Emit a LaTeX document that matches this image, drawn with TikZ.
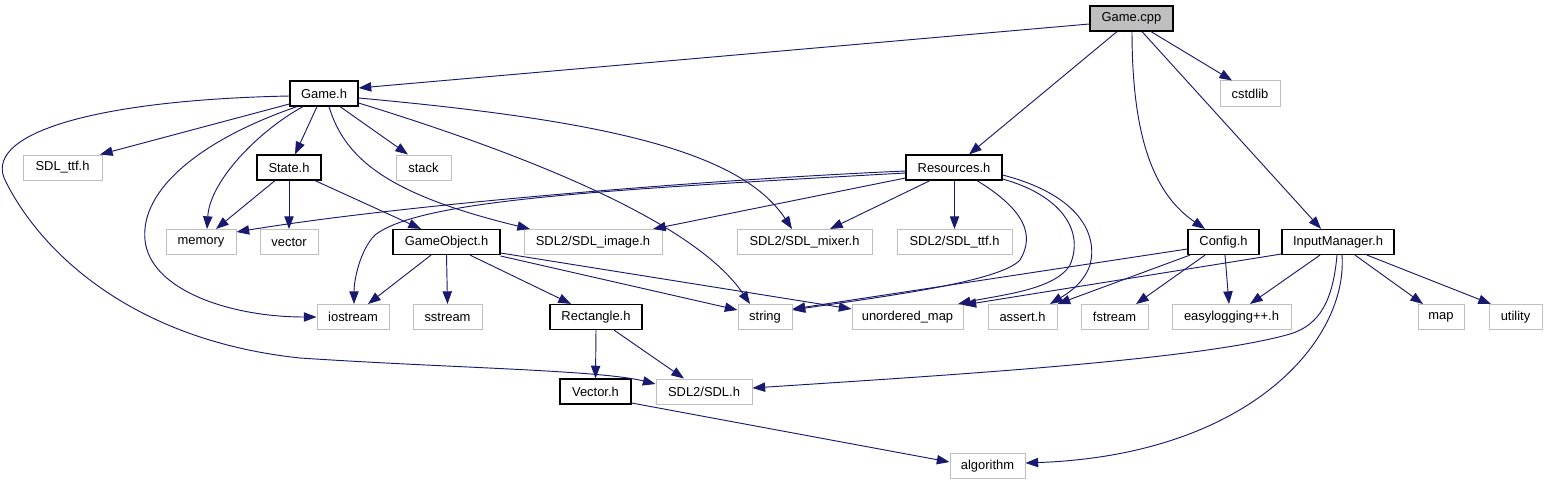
\documentclass[tikz,border=0pt]{standalone}
\usepackage{fontspec}
\setmainfont{Liberation Sans}
\usetikzlibrary{arrows.meta}
\definecolor{edgec}{HTML}{191970}
\definecolor{grayb}{HTML}{BFBFBF}
\definecolor{cppfill}{HTML}{BFBFBF}
\tikzset{
  base/.style={rectangle, inner sep=0pt, minimum height=18.75pt, font=\fontsize{9.7}{11}\selectfont, text=black},
  doc/.style={base, draw=black, line width=0.9pt, fill=white},
  ext/.style={base, draw=grayb, line width=0.75pt, fill=white},
  e/.style={draw=edgec, line width=0.7pt, -{Triangle[length=9.5pt,width=7pt]}},
}
\begin{document}
\begin{tikzpicture}[x=0.75pt,y=-0.75pt]
\useasboundingbox[fill=white] (0,0) rectangle (1548,485);
% nodes
\node[doc, fill=cppfill, minimum width=62.25pt] (gamecpp) at (1131.5,18.5) {Game.cpp};
\node[doc, minimum width=51pt] (gameh) at (324,93.5) {Game.h};
\node[ext, minimum width=45pt] (cstdlib) at (1250,93.5) {cstdlib};
\node[ext, minimum width=59.25pt] (sdlttf) at (62.5,167.5) {SDL\_ttf.h};
\node[doc, minimum width=48pt] (stateh) at (289,167.5) {State.h};
\node[ext, minimum width=41.25pt] (stack) at (423.5,167.5) {stack};
\node[doc, minimum width=72pt] (resources) at (954,167.5) {Resources.h};
\node[ext, minimum width=52.5pt] (memory) at (201,242) {memory};
\node[ext, minimum width=43.5pt] (vector) at (289,242) {vector};
\node[doc, minimum width=80.25pt] (gameobject) at (446.5,242) {GameObject.h};
\node[ext, minimum width=103.5pt] (sdlimage) at (593,242) {SDL2/SDL\_image.h};
\node[ext, minimum width=101.25pt] (sdlmixer) at (804.5,242) {SDL2/SDL\_mixer.h};
\node[ext, minimum width=86.25pt] (sdl2ttf) at (954.5,242) {SDL2/SDL\_ttf.h};
\node[doc, minimum width=53.25pt] (config) at (1223.5,242) {Config.h};
\node[doc, minimum width=84pt] (inputmgr) at (1338,242) {InputManager.h};
\node[ext, minimum width=54pt] (iostream) at (353,317) {iostream};
\node[ext, minimum width=51.75pt] (sstream) at (447.5,317) {sstream};
\node[doc, minimum width=69pt] (rectangle) at (596,317) {Rectangle.h};
\node[ext, minimum width=40.5pt] (string) at (765,317) {string};
\node[ext, minimum width=83.25pt] (umap) at (907.5,317) {unordered\_map};
\node[ext, minimum width=51.75pt] (assert) at (1022.5,317) {assert.h};
\node[ext, minimum width=50.25pt] (fstream) at (1114.5,317) {fstream};
\node[ext, minimum width=89.25pt] (easylog) at (1231.5,317) {easylogging++.h};
\node[ext, minimum width=34.5pt] (map) at (1441,317) {map};
\node[ext, minimum width=39.75pt] (utility) at (1515.5,317) {utility};
\node[doc, minimum width=53.25pt] (vectorh) at (595.5,391.5) {Vector.h};
\node[ext, minimum width=72pt] (sdlh) at (704,391.5) {SDL2/SDL.h};
\node[ext, minimum width=56.25pt] (algorithm) at (987.5,466) {algorithm};
% Game.cpp
\draw[e] (gamecpp.west |- 0,24) -- (gameh.east |- 0,88);
\draw[e] (gamecpp.south -| 1117,0) -- (resources.north -| 969,0);
\draw[e] (gamecpp.south -| 1132,0) .. controls (1132,140) and (1155,195) .. (config.north -| 1205,0);
\draw[e] (gamecpp.south -| 1142,0) -- (inputmgr.north -| 1321,0);
\draw[e] (gamecpp.south -| 1151,0) -- (cstdlib.north -| 1232,0);
% Game.h
\draw[e] (gameh.west |- 0,104) -- (sdlttf.north -| 100,0);
\draw[e] (gameh.south -| 317,0) -- (stateh.north -| 295,0);
\draw[e] (gameh.south -| 340,0) -- (stack.north -| 408,0);
\draw[e] (gameh.south -| 303,0) .. controls (260,130) and (210,180) .. (memory.north -| 207,0);
\draw[e] (gameh.south -| 297,0) .. controls (200,140) and (140,190) .. (145,240) .. controls (150,290) and (230,317) .. (iostream.west |- 0,317);
\draw[e] (gameh.west |- 0,96) .. controls (90,100) and (-20,135) .. (6,182) .. controls (40,250) and (130,340) .. (300,358) .. controls (450,368) and (600,370) .. (sdlh.west |- 0,384);
\draw[e] (gameh.south -| 329,0) .. controls (345,160) and (390,195) .. (sdlimage.north -| 530,0);
\draw[e] (gameh.east |- 0,98) .. controls (600,120) and (740,150) .. (sdlmixer.north -| 792,0);
\draw[e] (gameh.east |- 0,103) .. controls (560,165) and (700,230) .. (string.north -| 750,0);
% State.h
\draw[e] (stateh.south -| 275,0) -- (memory.north -| 216,0);
\draw[e] (stateh.south) -- (vector.north);
\draw[e] (stateh.south -| 315,0) -- (gameobject.north -| 421,0);
% Resources.h
\draw[e] (resources.west |- 0,171) .. controls (700,180) and (400,205) .. (memory.east |- 0,232);
\draw[e] (resources.west |- 0,173) .. controls (600,190) and (420,200) .. (375,235) .. controls (360,250) and (354,280) .. (iostream.north -| 354,0);
\draw[e] (resources.west |- 0,178) -- (sdlimage.north -| 653,0);
\draw[e] (resources.south -| 930,0) -- (sdlmixer.north -| 830,0);
\draw[e] (resources.south -| 954.5,0) -- (sdl2ttf.north);
\draw[e] (resources.south -| 977,0) .. controls (1025,210) and (1035,235) .. (1020,260) .. controls (1000,282) and (880,297) .. (string.east |- 0,310);
\draw[e] (resources.east |- 0,179) .. controls (1060,195) and (1085,230) .. (1070,265) .. controls (1055,290) and (1000,295) .. (umap.north -| 958,0);
\draw[e] (resources.east |- 0,175) .. controls (1080,195) and (1098,235) .. (1090,265) .. controls (1083,285) and (1065,295) .. (assert.north -| 1050,0);
% Config.h
\draw[e] (config.west |- 0,249) -- (string.east |- 0,309);
\draw[e] (config.south -| 1190,0) -- (assert.north east);
\draw[e] (config.south -| 1205,0) -- (fstream.north -| 1136,0);
\draw[e] (config.south -| 1225,0) -- (easylog.north -| 1229,0);
% InputManager.h
\draw[e] (inputmgr.west |- 0,254) -- (umap.east |- 0,305);
\draw[e] (inputmgr.south -| 1320,0) -- (easylog.north -| 1250,0);
\draw[e] (inputmgr.south -| 1337,0) .. controls (1333,300) and (1320,325) .. (1290,334) .. controls (1200,360) and (950,375) .. (sdlh.east |- 0,388);
\draw[e] (inputmgr.south -| 1342,0) .. controls (1348,340) and (1250,455) .. (algorithm.east |- 0,463);
\draw[e] (inputmgr.south -| 1355,0) -- (map.north -| 1423,0);
\draw[e] (inputmgr.south -| 1367,0) -- (utility.north -| 1491,0);
% GameObject.h
\draw[e] (gameobject.south -| 431,0) -- (iostream.north -| 368,0);
\draw[e] (gameobject.south) -- (sstream.north);
\draw[e] (gameobject.south -| 470,0) -- (rectangle.north -| 571,0);
\draw[e] (gameobject.east |- 0,256) -- (string.west |- 0,310);
\draw[e] (gameobject.east |- 0,253) -- (umap.west |- 0,309);
% Rectangle.h
\draw[e] (rectangle.south) -- (vectorh.north);
\draw[e] (rectangle.south -| 614,0) -- (sdlh.north -| 684,0);
% Vector.h
\draw[e] (vectorh.east |- 0,403) -- (algorithm.west |- 0,462);
\end{tikzpicture}
\end{document}
